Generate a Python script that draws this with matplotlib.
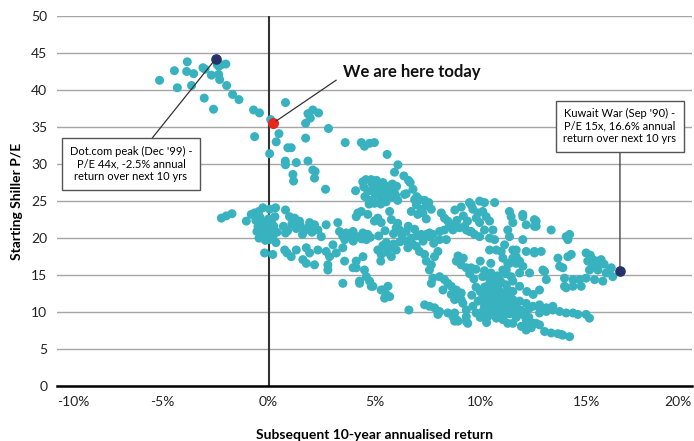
"""
Shiller P/E vs subsequent 10-year annualised return scatter.
"""

import matplotlib
matplotlib.use("Agg")
import matplotlib.pyplot as plt

plt.rcParams["font.family"] = ["Lato", "DejaVu Sans"]

# (subsequent 10y return %, starting Shiller P/E), grouped by area
arc_pts = [
    (-5.15, 41.3), (-4.45, 42.6), (-4.31, 40.3), (-3.84, 43.8), (-3.87, 42.5), (-3.54, 42.2),
    (-3.64, 40.6), (-3.1, 43.0), (-3.0, 42.8), (-3.04, 38.9), (-2.6, 37.4), (-2.7, 42.0),
    (-2.35, 43.2), (-2.24, 43.4), (-2.02, 43.5), (-2.42, 43.4), (-2.36, 42.1), (-2.31, 41.4),
    (-1.98, 40.6), (-1.70, 39.4), (-1.40, 38.7), (-0.71, 37.3), (-0.43, 36.9), (-0.66, 33.7),
    (0.1, 36.0), (0.05, 31.4), (0.49, 34.1), (0.36, 33.0), (0.8, 38.3), (0.91, 32.2),
    (1.07, 32.2), (0.79, 30.4), (0.8, 29.9), (1.31, 30.2), (1.15, 28.6), (1.18, 27.7),
    (1.75, 35.5), (1.75, 33.5), (1.86, 36.8), (1.97, 36.2), (2.09, 37.3), (2.36, 36.9),
    (1.86, 30.4), (2.09, 29.2), (2.2, 29.0), (2.17, 28.1), (2.83, 34.8), (2.69, 26.6),
    (3.62, 32.9), (4.38, 32.9), (4.53, 32.4), (4.77, 32.8), (5.0, 32.9), (5.6, 31.3),
    (6.11, 29.9), (5.95, 28.9), (6.39, 28.4), (6.61, 27.8), (6.69, 27.5),
]

blob_pts = [
    (4.11, 26.4), (4.45, 27.6), (4.6, 27.9), (4.5, 26.9), (4.7, 26.3), (4.55, 25.6),
    (4.8, 25.1), (4.9, 27.3), (4.95, 26.6), (5.05, 25.8), (5.1, 27.8), (5.2, 27.1),
    (5.25, 26.2), (5.3, 25.4), (5.4, 27.5), (5.45, 26.7), (5.5, 25.9), (5.55, 24.9),
    (5.65, 27.0), (5.7, 26.3), (5.8, 25.5), (5.85, 27.3), (5.95, 26.6), (6.0, 25.8),
    (6.1, 25.1), (4.75, 24.6), (5.0, 24.7), (5.3, 24.6), (6.05, 27.0), (4.85, 27.9),
    (6.42, 25.9), (6.82, 26.6), (6.9, 25.2), (6.98, 24.5), (6.5, 26.0), (7.0, 25.6),
    (7.13, 25.2), (7.37, 25.1), (7.57, 24.8), (7.45, 24.4), (7.69, 23.9), (6.74, 23.6),
    (7.21, 23.9), (7.29, 23.4), (7.05, 23.2), (7.45, 22.6),
]

zero_pts = [
    (-2.23, 22.7), (-2.0, 23.0), (-1.73, 23.3), (-1.05, 22.3), (-0.82, 23.2), (-0.66, 23.4),
    (-0.46, 23.6), (-0.27, 24.1), (0.05, 23.9), (0.33, 24.1),
    (-0.6, 22.4), (-0.5, 21.6), (-0.55, 20.9), (-0.4, 22.8), (-0.3, 21.2), (-0.25, 20.3),
    (-0.2, 22.1), (-0.1, 21.5), (-0.05, 20.6), (0.0, 22.6), (0.05, 19.8), (0.1, 21.0),
    (0.15, 22.0), (0.2, 20.2), (0.25, 21.6), (0.35, 19.4), (0.4, 20.8), (0.3, 22.9),
    (-0.45, 20.0), (-0.15, 19.7), (-0.19, 18.0), (0.2, 17.8),
    (0.8, 23.8), (0.99, 22.9), (1.23, 22.7), (1.46, 22.3),
    (0.7, 21.6), (0.9, 21.0), (1.1, 21.9), (1.3, 21.3), (1.5, 21.7), (1.7, 21.0),
    (1.9, 21.5), (2.05, 20.8), (0.8, 20.7), (1.6, 20.5),
    (0.76, 18.4), (0.87, 18.0), (1.07, 17.5), (1.31, 18.4), (1.78, 18.7), (1.94, 18.0),
    (1.62, 17.1), (1.78, 16.6), (2.17, 16.4),
    (1.94, 22.1), (2.17, 21.8), (2.33, 21.1), (2.49, 20.2), (2.72, 21.8),
    (2.33, 18.4), (2.72, 18.2), (2.88, 17.5), (2.8, 16.4), (3.04, 19.1), (3.2, 18.0),
    (3.59, 16.9), (3.51, 18.7), (2.8, 15.7), (3.27, 22.1), (3.51, 13.9),
]

middle_pts = [
    (3.35, 20.9), (3.67, 20.7), (3.99, 20.9), (4.22, 20.2), (4.46, 20.7), (4.69, 20.5),
    (4.62, 19.8), (3.6, 19.8), (3.9, 20.3),
    (3.5, 20.3), (4.0, 19.6), (4.4, 19.9), (4.8, 20.1),
    (4.22, 23.4), (4.38, 23.6), (4.69, 23.2), (4.14, 22.9), (5.16, 22.7), (5.32, 22.1),
    (5.72, 23.6), (5.8, 22.5), (5.0, 22.3),
    (4.14, 16.9), (4.46, 17.5), (4.53, 15.7), (4.62, 14.8), (4.77, 14.2), (4.93, 13.5),
    (4.14, 16.0), (4.3, 14.2), (3.99, 16.0), (4.3, 13.9), (4.85, 13.5), (5.4, 13.0),
    (5.48, 11.9), (5.72, 12.1),
    (5.16, 18.4), (5.32, 17.8), (5.56, 19.4), (5.72, 18.7), (5.8, 17.5), (6.03, 18.4),
    (5.4, 19.0), (5.6, 18.1), (5.3, 16.9), (5.9, 19.2),
    (5.2, 20.3), (5.5, 21.0), (5.9, 20.6), (6.1, 22.0), (6.6, 21.6), (6.9, 21.2),
    (7.0, 20.3), (6.8, 19.2), (7.3, 19.6), (7.8, 19.3),
    (5.32, 13.0), (5.56, 12.4), (5.64, 13.5),
    (6.03, 21.4), (6.19, 21.1), (6.5, 20.9), (6.5, 19.6), (6.74, 20.0), (6.98, 18.9),
    (6.58, 18.7), (6.3, 20.4), (6.2, 19.5),
    (7.6, 20.2), (8.08, 19.8), (8.4, 19.8),
    (7.21, 20.5), (7.45, 20.5), (7.6, 20.7), (7.76, 20.5), (8.08, 20.9), (8.31, 21.1),
    (8.55, 21.6), (8.71, 21.1), (9.02, 21.4), (9.26, 21.6), (9.49, 20.9), (9.73, 20.5),
    (9.97, 20.2), (9.34, 21.1), (9.57, 20.9),
    (8.16, 23.4), (8.31, 22.7), (8.47, 22.3), (8.71, 21.8), (9.57, 24.5), (9.65, 23.9),
    (9.81, 22.7), (8.9, 22.4), (9.2, 23.0), (9.4, 22.3), (8.8, 23.8), (9.1, 24.2),
    (7.13, 18.2), (7.37, 17.8), (7.45, 16.9), (7.69, 16.4), (7.6, 15.7), (7.84, 17.5),
    (8.0, 18.2),
    (8.87, 16.9), (9.1, 16.4), (9.34, 16.0), (9.57, 16.0), (8.95, 17.6), (9.2, 17.3),
    (9.49, 24.8), (9.97, 25.0), (10.2, 24.8), (10.68, 24.8), (9.89, 23.4), (10.12, 23.6),
    (10.28, 22.9), (9.97, 22.1), (10.44, 22.3), (10.2, 21.1), (10.6, 21.1), (10.44, 20.0),
    (10.68, 19.8), (10.76, 18.4), (10.99, 18.2), (11.15, 19.1), (11.38, 20.2), (11.3, 21.1),
    (11.46, 22.9), (11.54, 22.1), (12.01, 23.2), (12.17, 21.8), (12.64, 22.3), (12.64, 21.6),
    (11.38, 23.6), (12.01, 22.9), (12.56, 22.5), (12.56, 21.6), (13.35, 21.1),
    (10.44, 18.4), (11.07, 17.3), (11.23, 15.7), (11.3, 16.6), (11.54, 17.3), (11.7, 16.6),
    (11.46, 14.8), (11.86, 15.3),
    (12.01, 19.8), (12.17, 18.2), (12.56, 18.2), (12.88, 18.2), (11.7, 18.4), (11.54, 18.4),
    (11.7, 17.5), (11.86, 16.9), (12.01, 16.2), (12.33, 15.3), (11.38, 16.6), (11.07, 15.7),
    (13.67, 17.3), (14.06, 20.2), (14.22, 20.5), (14.14, 17.5), (14.3, 17.8), (14.14, 19.8),
    (12.96, 15.7), (13.12, 14.4), (13.04, 15.5), (13.98, 14.6), (14.38, 14.4), (13.98, 13.5),
    (14.38, 13.5), (14.06, 13.3), (14.69, 14.4), (14.77, 13.5), (13.75, 16.2), (13.9, 16.0),
    (12.56, 18.0),
]

right_pts = [
    (15.0, 18.0), (15.08, 16.9), (15.32, 17.1), (15.48, 16.9), (15.71, 17.1), (15.56, 15.7),
    (15.16, 15.7), (15.0, 14.6), (15.4, 14.4), (15.79, 14.2), (15.95, 15.3), (16.11, 15.7),
    (16.26, 14.8), (16.19, 16.0), (15.2, 17.7), (15.6, 16.3), (15.3, 16.1), (15.85, 16.5),
]

lower_pts = [
    (6.63, 10.3), (7.37, 11.0), (7.6, 10.8), (7.84, 10.6), (8.08, 10.1), (8.0, 9.7),
    (8.47, 9.9), (8.71, 9.4), (8.79, 8.8), (8.95, 8.8), (9.34, 9.4), (9.41, 8.5), (9.81, 9.9),
    (8.08, 14.8), (8.31, 14.4), (8.47, 13.9), (8.24, 13.0), (8.63, 13.5), (8.87, 13.0),
    (8.63, 12.4), (8.87, 11.9), (9.1, 12.6), (9.1, 11.7), (7.69, 13.9), (7.76, 14.6),
    (8.79, 11.7), (9.02, 12.1), (9.18, 11.2), (8.79, 9.9), (9.34, 10.3), (9.65, 10.8),
    (8.87, 9.0), (9.34, 8.8),
    (10.12, 10.1), (10.36, 9.4), (10.76, 9.2), (11.07, 9.0), (11.3, 8.5), (11.54, 8.5),
    (11.94, 8.1), (12.17, 7.9), (12.41, 8.1), (12.64, 8.5),
    (10.28, 12.1), (10.6, 11.9), (10.91, 11.7), (11.23, 11.9), (11.54, 11.7), (11.86, 11.5),
    (12.17, 11.2), (12.49, 10.8), (12.8, 10.6), (13.12, 10.3),
    (10.44, 13.9), (10.76, 13.3), (11.07, 12.6), (11.38, 12.1), (11.54, 12.8),
    (10.12, 14.8), (10.44, 14.6), (10.91, 14.4), (11.23, 13.7), (11.54, 14.2), (11.86, 13.5),
    (9.9, 11.5), (10.0, 12.8), (10.2, 10.8), (10.4, 11.2), (10.5, 10.4), (10.7, 10.7),
    (10.9, 10.1), (11.0, 10.9), (11.2, 10.4), (11.4, 9.8), (11.6, 10.2), (11.1, 11.2),
    (10.8, 12.4), (11.3, 13.0), (10.6, 13.9), (11.7, 9.3), (12.0, 9.7), (12.3, 9.3),
    (10.0, 9.3), (10.3, 8.6), (9.6, 12.3), (9.8, 13.4),
    (10.1, 11.9), (10.3, 12.5), (10.5, 12.9), (10.7, 11.5), (10.9, 12.9), (11.1, 11.9),
    (11.3, 11.3), (11.5, 11.0), (11.7, 10.7), (11.9, 10.3), (12.1, 10.0), (12.3, 10.5),
    (10.6, 9.8), (10.9, 9.6), (11.2, 9.7), (10.2, 13.4), (10.8, 14.9), (11.0, 14.0),
    (11.2, 15.2), (10.5, 15.3),
    (12.8, 9.9), (13.12, 10.1), (13.43, 10.3), (13.75, 10.1), (14.06, 9.9), (14.38, 9.9),
    (14.61, 9.7), (15.0, 9.7), (15.16, 9.2), (12.8, 11.0), (13.12, 10.6), (13.43, 10.8),
    (12.17, 9.0), (12.49, 8.5), (12.8, 8.3), (12.41, 7.9), (12.17, 7.6),
    (13.04, 7.4), (13.35, 7.2), (13.67, 7.1), (13.9, 6.9), (14.22, 6.7), (13.83, 7.0),
    (9.5, 15.2), (9.7, 14.5), (10.2, 15.6), (10.5, 16.6), (10.0, 16.9), (9.8, 15.8),
    (12.5, 12.4), (12.8, 13.0), (12.2, 12.8),
]

dotcom = (-2.5, 44.2)
kuwait = (16.6, 15.5)
today = (0.2, 35.5)

x_ticks = [-10, -5, 0, 5, 10, 15, 20]
y_ticks = [0, 5, 10, 15, 20, 25, 30, 35, 40, 45, 50]

TEAL = "#38b2bf"
NAVY = "#26336a"
RED = "#e8271d"

fig = plt.figure(figsize=(6.94, 4.41), dpi=100)
ax = fig.add_axes([0.082, 0.124, 0.915, 0.840])

for pts in [arc_pts, blob_pts, zero_pts, middle_pts, right_pts, lower_pts]:
    xs = [p[0] for p in pts]
    ys = [p[1] for p in pts]
    ax.scatter(xs, ys, s=42, color=TEAL, edgecolors="none", zorder=3)

ax.scatter([dotcom[0], kuwait[0]], [dotcom[1], kuwait[1]], s=44, color=NAVY, zorder=4)
ax.scatter([today[0]], [today[1]], s=48, color=RED, zorder=5)

ax.set_xlim(-10, 20)
ax.set_ylim(0, 50)
ax.set_xticks(x_ticks)
ax.set_xticklabels([f"{t}%" for t in x_ticks])
ax.set_yticks(y_ticks)
ax.grid(axis="y", color="#a6a6a6", lw=1)
ax.set_axisbelow(True)
ax.axvline(0, color="#333333", lw=1.5, zorder=2)
for s in ["left", "right", "top"]:
    ax.spines[s].set_visible(False)
ax.spines["bottom"].set_linewidth(1.8)
ax.tick_params(length=0, labelsize=10, colors="#222222")
ax.tick_params(axis="x", pad=7)
ax.tick_params(axis="y", pad=7)
xl = ax.get_xticklabels()
xl[0].set_ha("left")
xl[-1].set_ha("right")

ax.set_xlabel("Subsequent 10-year annualised return", fontsize=10, fontweight="bold", labelpad=15)
ax.set_ylabel("Starting Shiller P/E", fontsize=10, fontweight="bold", labelpad=6)

box = dict(boxstyle="square,pad=0.7", fc="white", ec="#555555", lw=1)
ax.annotate("Dot.com peak (Dec '99) -\nP/E 44x, -2.5% annual\nreturn over next 10 yrs",
            xy=dotcom, xytext=(-6.5, 30.0), ha="center", va="center", fontsize=8,
            linespacing=1.15, bbox=box, zorder=6,
            arrowprops=dict(arrowstyle="-", color="#333333", lw=0.9, relpos=(0.62, 1.0),
                            shrinkA=0, shrinkB=3))
ax.annotate("Kuwait War (Sep '90) -\nP/E 15x, 16.6% annual\nreturn over next 10 yrs",
            xy=kuwait, xytext=(16.6, 35.1), ha="center", va="center", fontsize=8,
            linespacing=1.15, bbox=box, zorder=6,
            arrowprops=dict(arrowstyle="-", color="#333333", lw=0.9, relpos=(0.5, 0.0),
                            shrinkA=0, shrinkB=3))
ax.annotate("We are here today", xy=today, xytext=(3.5, 42.4), ha="left", va="center",
            fontsize=12, fontweight="bold", color="#111111", zorder=6,
            arrowprops=dict(arrowstyle="-", color="#333333", lw=0.9, relpos=(-0.03, 0.1),
                            shrinkA=2, shrinkB=3))

fig.savefig("out.png", dpi=100)
